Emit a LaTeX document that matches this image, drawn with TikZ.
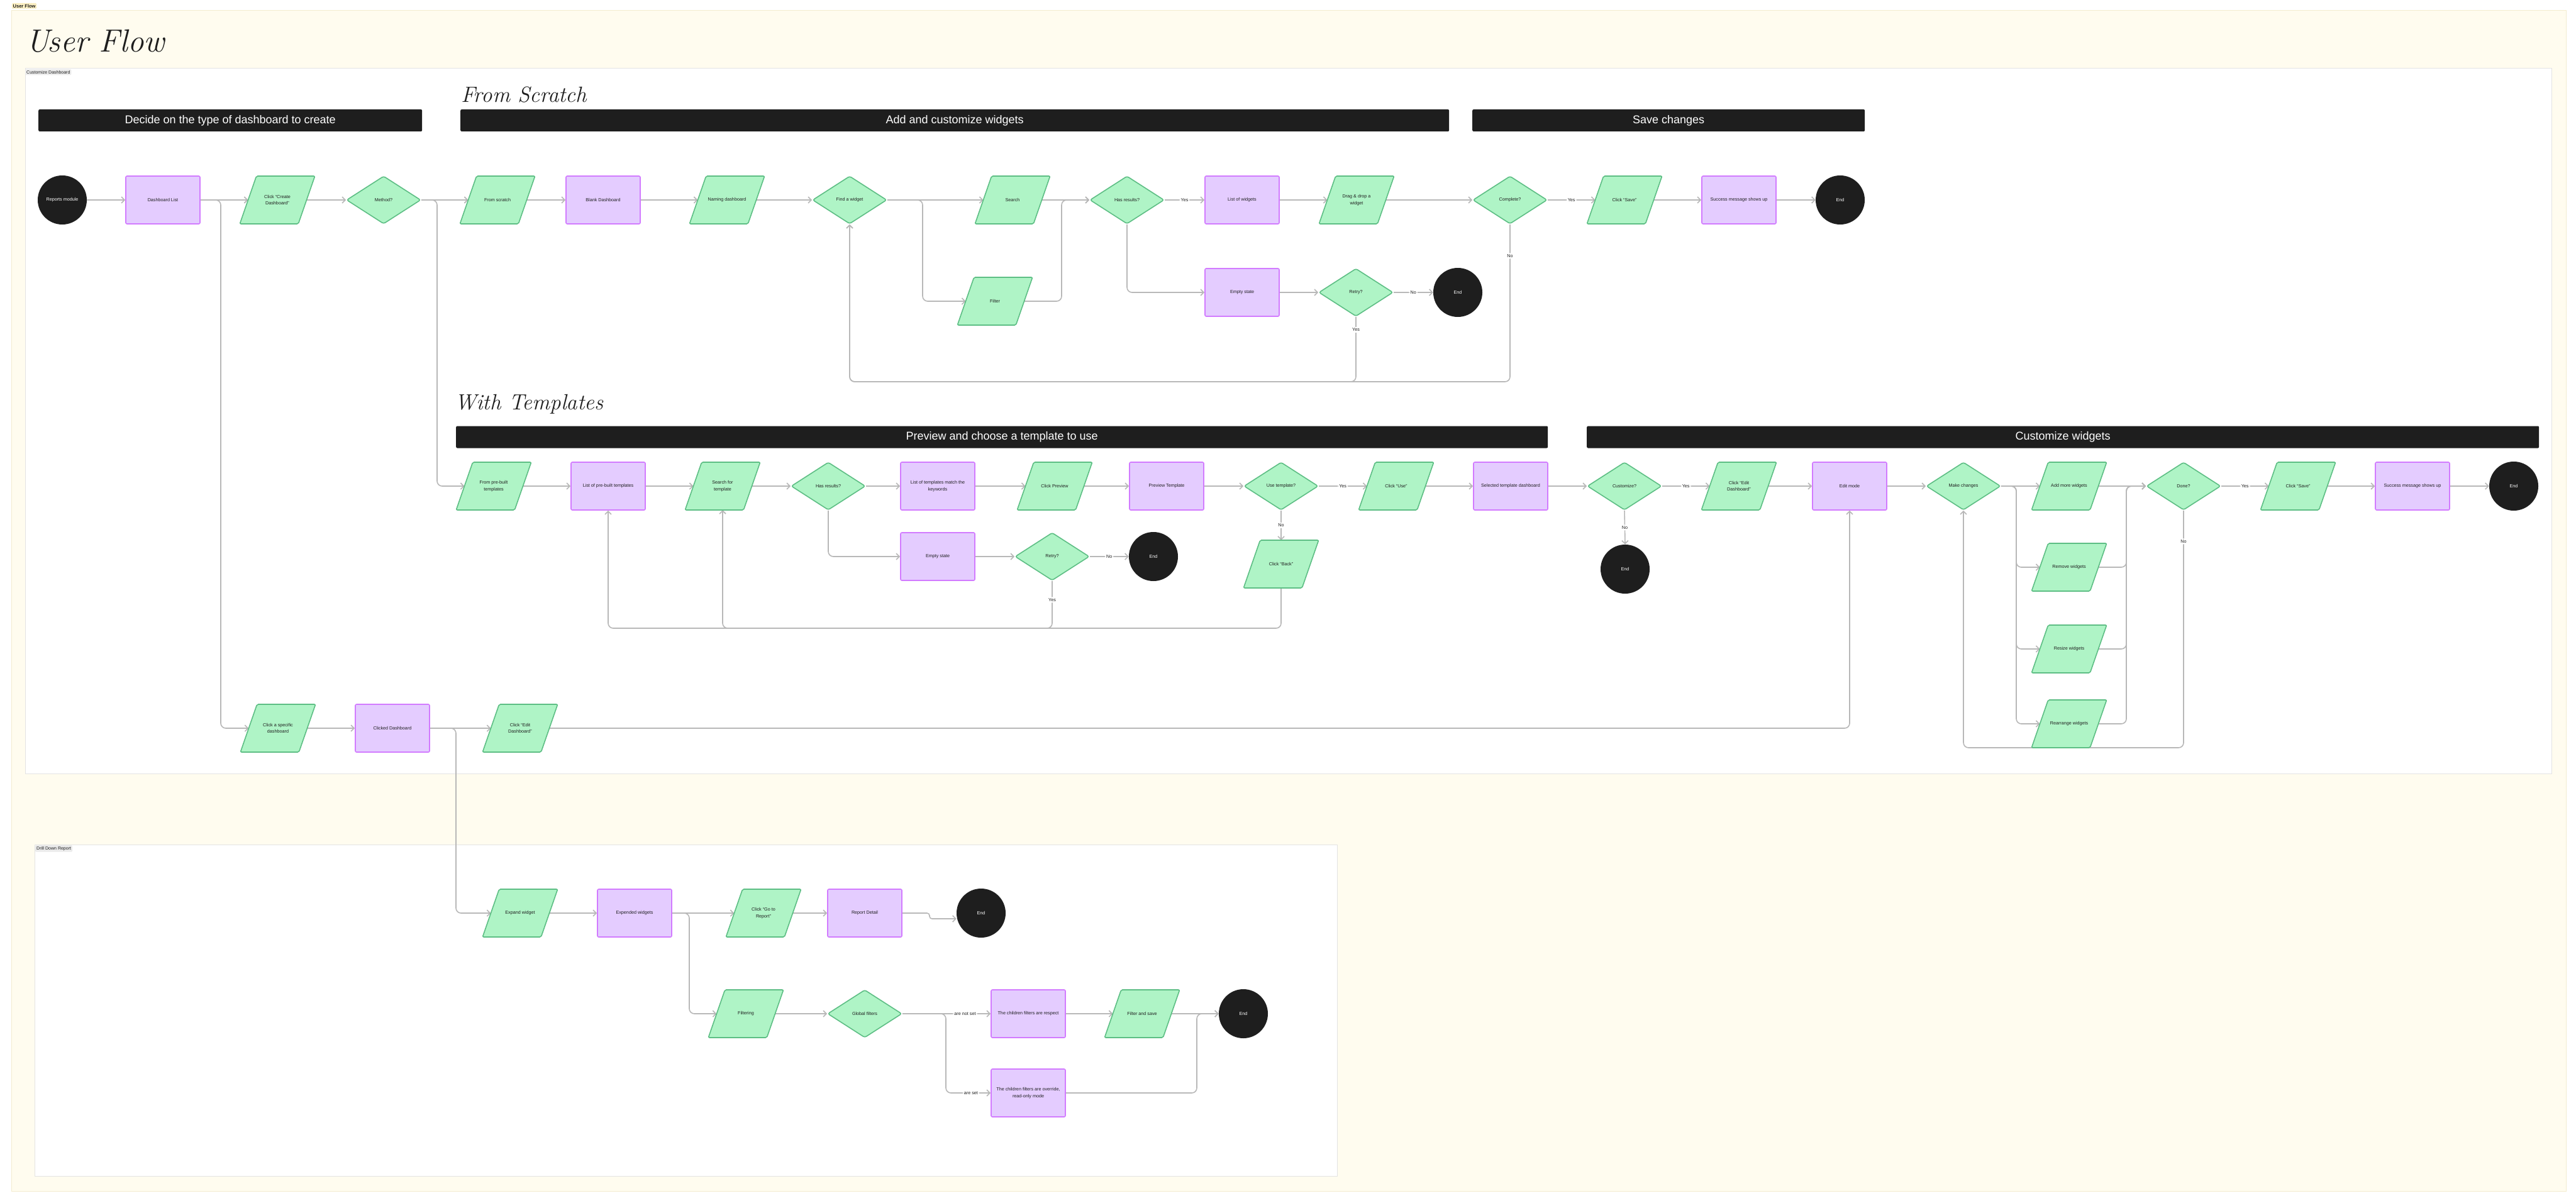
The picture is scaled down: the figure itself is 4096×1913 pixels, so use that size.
\documentclass[tikz,border=0pt]{standalone}
\usepackage{fontspec}
\usetikzlibrary{shapes.geometric,arrows.meta}
\newfontfamily\uifont{Liberation Sans}
\newcommand\nodefnt{\uifont\fontsize{7.2}{10.5}\selectfont}
\newcommand\barfnt{\uifont\fontsize{18}{20}\selectfont}
\newcommand\secfnt{\uifont\fontsize{7}{8}\selectfont}
\definecolor{gfill}{HTML}{AFF4C6}
\definecolor{gline}{HTML}{5DBE84}
\definecolor{pfill}{HTML}{E4CCFF}
\definecolor{pline}{HTML}{D27BFF}
\definecolor{termc}{HTML}{1E1E1E}
\definecolor{txt}{HTML}{1E1E1E}
\definecolor{conncol}{HTML}{B8B8B8}
\definecolor{cream}{HTML}{FFFCEF}
\definecolor{creamline}{HTML}{F3ECCF}
\definecolor{secline}{HTML}{E3E3E3}
\definecolor{seclab}{HTML}{EBEBEB}
\definecolor{ylab}{HTML}{FDF1C4}
\definecolor{ylabline}{HTML}{E2CF86}
\pgfdeclarelayer{back}
\pgfdeclarelayer{edges}
\pgfdeclarelayer{shapes}
\pgfsetlayers{back,edges,shapes,main}
\begin{document}
\begin{tikzpicture}[x=1pt,y=-1pt,
  base/.style={font=\nodefnt, text=txt, align=center, inner sep=1pt},
  proc/.style={base, rectangle, draw=pline, fill=pfill, line width=1.6pt, rounded corners=2pt, minimum width=118pt, minimum height=76pt},
  io/.style={base, rectangle, outer sep=0pt, minimum width=93pt, minimum height=76pt},
  paral/.style={fill=gfill, draw=gline, line width=1.6pt, rounded corners=2pt},
  dec/.style={base, diamond, draw=gline, fill=gfill, line width=1.6pt, rounded corners=3pt, minimum width=118pt, minimum height=76pt, inner sep=0pt},
  term/.style={base, circle, fill=termc, text=white, minimum size=78pt, inner sep=0pt},
  conn/.style={draw=conncol, line width=1.6pt, rounded corners=8pt, -{Straight Barb[length=5pt,width=10pt]}},
  lbl/.style={fill=white, font=\nodefnt, text=txt, inner sep=2pt},
  bar/.style={fill=termc, rounded corners=2pt, text=white, font=\barfnt, minimum height=35pt, inner sep=0pt, anchor=west},
  hand/.style={font=\fontsize{35}{40}\selectfont\itshape, text=txt, anchor=base west, inner sep=0pt},
  seclabel/.style={anchor=north west, fill=seclab, rounded corners=1.5pt, font=\secfnt, text=txt, inner sep=2pt}
]
\useasboundingbox (0,0) rectangle (4096,1913);
\begin{pgfonlayer}{back}
\fill[white] (0,0) rectangle (4096,1913);
\filldraw[fill=cream, draw=creamline, line width=1pt] (18,17) rectangle (4080,1894);
\filldraw[fill=white, draw=secline, line width=1pt] (40,109) rectangle (4057,1230);
\filldraw[fill=white, draw=secline, line width=1pt] (55,1343) rectangle (2126,1870);
\end{pgfonlayer}

% labels of frames
\node[anchor=north west, fill=ylab, draw=ylabline, densely dotted, rounded corners=1.5pt, font=\uifont\fontsize{7.5}{8}\selectfont\bfseries, text=txt, inner sep=1.5pt] (lblflow) at (19,5) {User Flow};
\node[seclabel] (lblcust) at (40,110) {Customize Dashboard};
\node[seclabel] (lbldrill) at (56,1344) {Drill Down Report};

% titles
\node[anchor=base west, font=\fontsize{51}{60}\selectfont\itshape, text=txt, inner sep=0pt] (title) at (41,83) {User Flow};
\node[hand] (tscratch) at (733,163) {From Scratch};
\node[hand] (ttempl) at (723,651) {With Templates};

% header bars
\node[bar, minimum width=610pt] (bar1) at (61,191.5) {Decide on the type of dashboard to create};
\node[bar, minimum width=1572pt] (bar2) at (732,191.5) {Add and customize widgets};
\node[bar, minimum width=624pt] (bar3) at (2341,191.5) {Save changes};
\node[bar, minimum width=1736pt] (bar4) at (725,695) {Preview and choose a template to use};
\node[bar, minimum width=1514pt] (bar5) at (2523,695) {Customize widgets};

% ---------- Row 1 : from scratch
\node[term] (rep) at (99,318) {Reports module};
\node[proc] (dlist) at (259,318) {Dashboard List};
\node[io] (ccreate) at (441,318) {Click “Create\\Dashboard”};
\node[dec] (method) at (610,318) {Method?};
\node[io] (fscratch) at (791,318) {From scratch};
\node[proc] (blank) at (959,318) {Blank Dashboard};
\node[io] (naming) at (1156,318) {Naming dashboard};
\node[dec] (find) at (1351,318) {Find a widget};
\node[io] (search) at (1610,318) {Search};
\node[io] (filter) at (1582,479) {Filter};
\node[dec] (hasres) at (1792,318) {Has results?};
\node[proc] (listw) at (1975,318) {List of widgets};
\node[proc] (empty1) at (1975,465) {Empty state};
\node[io] (drag) at (2157,318) {Drag \& drop a\\widget};
\node[dec] (retry1) at (2156,465) {Retry?};
\node[term] (end2) at (2318,465) {End};
\node[dec] (complete) at (2401,318) {Complete?};
\node[io] (save1) at (2583,318) {Click “Save”};
\node[proc] (success1) at (2765,318) {Success message shows up};
\node[term] (end1) at (2926,318) {End};

% ---------- Row 2 : templates
\node[io] (prebuilt) at (785,773) {From pre-built\\templates};
\node[proc] (listpre) at (967,773) {List of pre-built templates};
\node[io] (searcht) at (1149,773) {Search for\\template};
\node[dec] (hasres2) at (1317,773) {Has results?};
\node[proc] (listmatch) at (1491,773) {List of templates match the\\keywords};
\node[io] (clickprev) at (1677,773) {Click Preview};
\node[proc] (prevt) at (1855,773) {Preview Template};
\node[dec] (usetmp) at (2037,773) {Use template?};
\node[io] (clickuse) at (2220,773) {Click “Use”};
\node[proc] (seltmp) at (2402,773) {Selected template dashboard};
\node[dec] (custq) at (2583,773) {Customize?};
\node[io] (cedit) at (2765,773) {Click “Edit\\Dashboard”};
\node[proc] (editmode) at (2941,773) {Edit mode};
\node[dec] (makech) at (3122,773) {Make changes};
\node[io] (addw) at (3290,773) {Add more widgets};
\node[io] (removew) at (3290,902) {Remove widgets};
\node[io] (resizew) at (3290,1032) {Resize widgets};
\node[io] (rearrw) at (3290,1151) {Rearrange widgets};
\node[dec] (done) at (3472,773) {Done?};
\node[io] (save2) at (3654,773) {Click “Save”};
\node[proc] (success2) at (3836,773) {Success message shows up};
\node[term] (end5) at (3997,773) {End};
\node[proc] (empty2) at (1491,885) {Empty state};
\node[dec] (retry2) at (1673,885) {Retry?};
\node[term] (end3) at (1834,885) {End};
\node[io] (clickback) at (2037,897) {Click “Back”};
\node[term] (end4) at (2584,905) {End};

% ---------- Row 3 : existing dashboard
\node[io] (cspec) at (442,1158) {Click a specific\\dashboard};
\node[proc] (clicked) at (624,1158) {Clicked Dashboard};
\node[io] (cedit2) at (827,1158) {Click “Edit\\Dashboard”};

% ---------- Drill down
\node[io] (expand) at (827,1452) {Expand widget};
\node[proc] (expw) at (1009,1452) {Expended widgets};
\node[io] (gotor) at (1214,1452) {Click “Go to\\Report”};
\node[proc] (report) at (1375,1452) {Report Detail};
\node[term] (end6) at (1560,1452) {End};
\node[io] (filtering) at (1186,1612) {Filtering};
\node[dec] (global) at (1375,1612) {Global filters};
\node[proc] (respect) at (1635,1612) {The children filters are respect};
\node[io] (fsave) at (1816,1612) {Filter and save};
\node[term] (end7) at (1977,1612) {End};
\node[proc] (override) at (1635,1738) {The children filters are override,\\read-only mode};

% parallelogram outlines of the input/output nodes
\begin{pgfonlayer}{shapes}
\foreach \n in {ccreate,fscratch,naming,search,filter,drag,save1,prebuilt,searcht,clickprev,clickuse,cedit,addw,removew,resizew,rearrw,save2,clickback,cspec,cedit2,expand,gotor,filtering,fsave}{
  \path[paral] ([xshift=13.2pt]\n.north west) -- ([xshift=13.2pt]\n.north east) -- ([xshift=-13.2pt]\n.south east) -- ([xshift=-13.2pt]\n.south west) -- cycle;
}
\end{pgfonlayer}

% ---------- connectors
\begin{pgfonlayer}{edges}
% row 1
\draw[conn] (rep.east) -- (dlist.west);
\draw[conn] (dlist.east) -- (ccreate.west);
\draw[conn] (ccreate.east) -- (method.west);
\draw[conn] (method.east) -- (fscratch.west);
\draw[conn] (fscratch.east) -- (blank.west);
\draw[conn] (blank.east) -- (naming.west);
\draw[conn] (naming.east) -- (find.west);
\draw[conn] (find.east) -- (search.west);
\draw[conn] (find.east) -- (1467,318) -- (1467,479) -- (filter.west);
\draw[conn] (filter.east) -- (1688,479) -- (1688,318) -- (hasres.west);
\draw[conn] (search.east) -- (hasres.west);
\draw[conn] (hasres.east) -- node[lbl]{Yes} (listw.west);
\draw[conn] (hasres.south) -- (1792,465) -- (empty1.west);
\draw[conn] (listw.east) -- (drag.west);
\draw[conn] (drag.east) -- (complete.west);
\draw[conn] (complete.east) -- node[lbl]{Yes} (save1.west);
\draw[conn] (save1.east) -- (success1.west);
\draw[conn] (success1.east) -- (end1.west);
\draw[conn] (empty1.east) -- (retry1.west);
\draw[conn] (retry1.east) -- node[lbl]{No} (end2.west);
\draw[conn] (retry1.south) -- node[lbl,pos=0.2]{Yes} (2156,607) -- (1351,607) -- (find.south);
\draw[conn] (complete.south) -- node[lbl,pos=0.2]{No} (2401,607) -- (1351,607) -- (find.south);
% branches from row 1
\draw[conn] (dlist.east) -- (351,318) -- (351,1158) -- (cspec.west);
\draw[conn] (method.east) -- (695,318) -- (695,773) -- (prebuilt.west);
% row 2
\draw[conn] (prebuilt.east) -- (listpre.west);
\draw[conn] (listpre.east) -- (searcht.west);
\draw[conn] (searcht.east) -- (hasres2.west);
\draw[conn] (hasres2.east) -- (listmatch.west);
\draw[conn] (listmatch.east) -- (clickprev.west);
\draw[conn] (clickprev.east) -- (prevt.west);
\draw[conn] (prevt.east) -- (usetmp.west);
\draw[conn] (usetmp.east) -- node[lbl]{Yes} (clickuse.west);
\draw[conn] (clickuse.east) -- (seltmp.west);
\draw[conn] (seltmp.east) -- (custq.west);
\draw[conn] (custq.east) -- node[lbl]{Yes} (cedit.west);
\draw[conn] (cedit.east) -- (editmode.west);
\draw[conn] (editmode.east) -- (makech.west);
\draw[conn] (hasres2.south) -- (1317,885) -- (empty2.west);
\draw[conn] (empty2.east) -- (retry2.west);
\draw[conn] (retry2.east) -- node[lbl]{No} (end3.west);
\draw[conn] (retry2.south) -- node[lbl,pos=0.4]{Yes} (1673,999) -- (1149,999) -- (searcht.south);
\draw[conn] (clickback.south) -- (2037,999) -- (967,999) -- (listpre.south);
\draw[conn] (usetmp.south) -- node[lbl]{No} (clickback.north);
\draw[conn] (custq.south) -- node[lbl]{No} (end4.north);
\draw[conn] (makech.east) -- (addw.west);
\draw[conn] (makech.east) -- (3206,773) |- (removew.west);
\draw[conn] (makech.east) -- (3206,773) |- (resizew.west);
\draw[conn] (makech.east) -- (3206,773) |- (rearrw.west);
\draw[conn] (addw.east) -- (done.west);
\draw[conn] (removew.east) -| (3381,773) -- (done.west);
\draw[conn] (resizew.east) -| (3381,773) -- (done.west);
\draw[conn] (rearrw.east) -| (3381,773) -- (done.west);
\draw[conn] (done.east) -- node[lbl]{Yes} (save2.west);
\draw[conn] (save2.east) -- (success2.west);
\draw[conn] (success2.east) -- (end5.west);
\draw[conn] (done.south) -- node[lbl,pos=0.13]{No} (3472,1189) -- (3122,1189) -- (makech.south);
% row 3
\draw[conn] (cspec.east) -- (clicked.west);
\draw[conn] (clicked.east) -- (cedit2.west);
\draw[conn] (cedit2.east) -- (2941,1158) -- (editmode.south);
\draw[conn] (clicked.east) -- (725,1158) -- (725,1452) -- (expand.west);
% drill down
\draw[conn] (expand.east) -- (expw.west);
\draw[conn] (expw.east) -- (gotor.west);
\draw[conn] (gotor.east) -- (report.west);
\draw[conn, rounded corners=4pt] (report.east) -- (1478,1452) -- (1478,1461) -- ([yshift=-9pt]end6.west);
\draw[conn] (expw.east) -- (1096,1452) -- (1096,1612) -- (filtering.west);
\draw[conn] (filtering.east) -- (global.west);
\draw[conn] (global.east) -- node[lbl,pos=0.71]{are not set} (respect.west);
\draw[conn] (global.east) -- (1504,1612) -- (1504,1738) -- node[lbl,pos=0.56]{are set} (override.west);
\draw[conn] (respect.east) -- (fsave.west);
\draw[conn] (fsave.east) -- (end7.west);
\draw[conn] (override.east) -- (1903,1738) -- (1903,1612) -- (end7.west);
\end{pgfonlayer}
\end{tikzpicture}
\end{document}
